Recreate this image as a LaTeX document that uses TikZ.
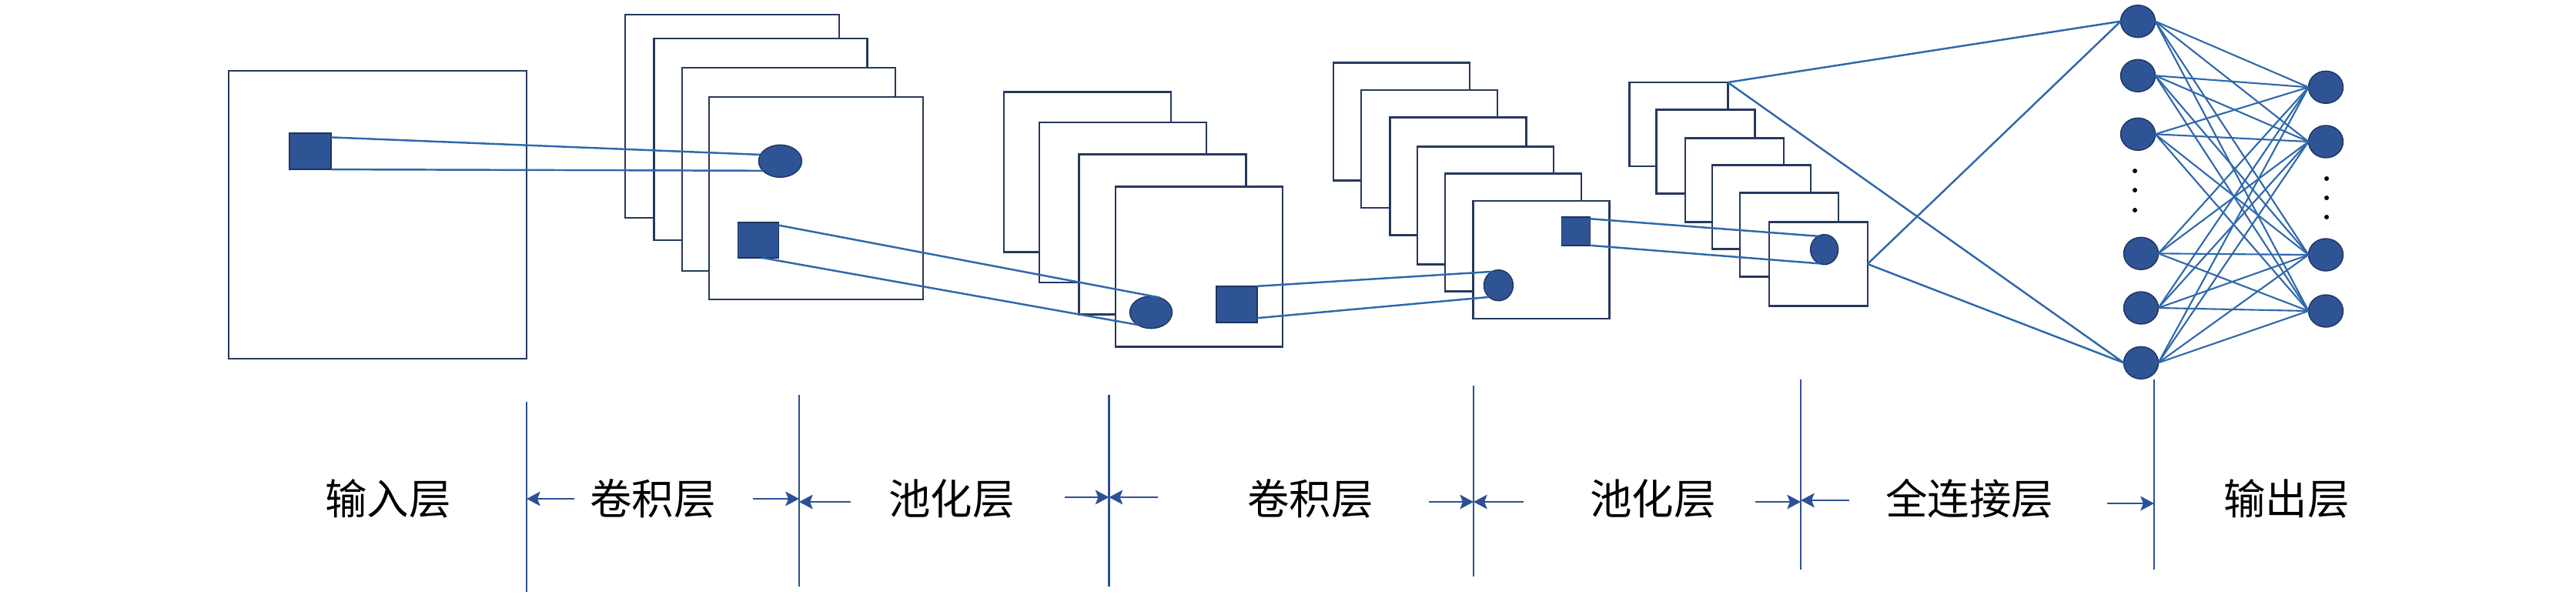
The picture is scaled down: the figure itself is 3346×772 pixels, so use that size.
\documentclass[tikz,border=0pt]{standalone}
\usepackage{fontspec}
\newfontfamily\cjk{Noto Sans CJK SC}
\usetikzlibrary{arrows.meta,shapes.geometric,calc}
\definecolor{framec}{RGB}{40,56,92}
\definecolor{fillb}{RGB}{47,84,150}
\definecolor{edgeb}{RGB}{30,52,96}
\definecolor{linkc}{RGB}{46,104,172}
\definecolor{axisc}{RGB}{43,80,150}
\begin{document}
\begin{tikzpicture}[x=0.02cm,y=-0.02cm,
  sz/.style 2 args={minimum width=#1*0.02cm,minimum height=#2*0.02cm},
  fmap/.style={draw=framec,fill=white,line width=1.4pt,rectangle,inner sep=0pt,outer sep=0pt,anchor=north west},
  patch/.style={draw=edgeb,fill=fillb,line width=0.8pt,rectangle,inner sep=0pt,outer sep=0pt},
  unit/.style={draw=edgeb,fill=fillb,line width=0.8pt,ellipse,inner sep=0pt,outer sep=0pt},
  neuron/.style={unit,sz={45}{42}},
  dotmark/.style={circle,fill=black,inner sep=0pt,minimum size=6*0.02cm},
  conn/.style={draw=linkc,line width=1.4pt},
  fcl/.style={draw=linkc,line width=1.2pt},
  vline/.style={draw=axisc,line width=1.3pt},
  arr/.style={draw=axisc,line width=1.6pt,-{Stealth[length=10pt,width=10.5pt,inset=2pt]}},
  lab/.style={font=\cjk\fontsize{31}{31}\selectfont,text=black,inner sep=0pt}
]
\useasboundingbox (0,0) rectangle (3346,772);

% input layer
\node[fmap,sz={387}{374}] (inp) at (297,92) {};
% conv 1
\node[fmap,sz={278}{264}] (ca1) at (812,19) {};
\node[fmap,sz={277}{262}] (ca2) at (849.5,50) {};
\node[fmap,sz={277}{264}] (ca3) at (886,88) {};
\node[fmap,sz={278}{263}] (ca4) at (921,126) {};
% pool 1
\node[fmap,sz={217}{208}] (pa1) at (1304,119.3) {};
\node[fmap,sz={217}{208}] (pa2) at (1350,159) {};
\node[fmap,sz={217}{208}] (pa3) at (1401.5,200.7) {};
\node[fmap,sz={217}{208}] (pa4) at (1449,242.3) {};
% conv 2
\node[fmap,sz={177}{153}] (cb1) at (1732,81.7) {};
\node[fmap,sz={177}{153}] (cb2) at (1768,117) {};
\node[fmap,sz={177}{153}] (cb3) at (1805.6,152.7) {};
\node[fmap,sz={177}{153}] (cb4) at (1840.8,190.3) {};
\node[fmap,sz={177}{153}] (cb5) at (1876.8,225.7) {};
\node[fmap,sz={177}{153}] (cb6) at (1913.5,261) {};
% pool 2
\node[fmap,sz={128}{109}] (pb1) at (2116.3,107) {};
\node[fmap,sz={128}{109}] (pb2) at (2151.5,142.3) {};
\node[fmap,sz={128}{109}] (pb3) at (2189,179.7) {};
\node[fmap,sz={128}{109}] (pb4) at (2224.2,214.7) {};
\node[fmap,sz={128}{109}] (pb5) at (2260.2,250.7) {};
\node[fmap,sz={128}{109}] (pb6) at (2297.7,288.5) {};

% patches and units
\node[patch,sz={54}{47}] (s1) at (403,196.6) {};
\node[unit,sz={56}{42}] (e1) at (1013.4,209.3) {};
\node[patch,sz={53}{46}] (s2) at (985,311.9) {};
\node[unit,sz={55}{42}] (e2) at (1495,405.7) {};
\node[patch,sz={53}{47}] (s3) at (1606.6,395.3) {};
\node[unit,sz={38}{40}] (e3) at (1946.4,370.7) {};
\node[patch,sz={37}{37}] (s4) at (2046.7,300.3) {};
\node[unit,sz={36}{39}] (e4) at (2369.6,324.2) {};

% receptive field lines
\draw[conn] (s1.34) -- (e1.162);
\draw[conn] (s1.south east) -- (e1.209);
\draw[conn] (s2.36) -- (e2.60);
\draw[conn] (s2.-78) -- (e2.223);
\draw[conn] (s3.north east) -- (e3.116);
\draw[conn] (s3.-34) -- (e3.231);
\draw[conn] (s4.41) -- (e4.115);
\draw[conn] (s4.south east) -- (e4.250);

% neurons
\node[neuron] (n1) at (2777,27.7) {};
\node[neuron] (n2) at (2777,98.3) {};
\node[neuron] (n3) at (2777,174.3) {};
\node[neuron] (n4) at (2781,329.3) {};
\node[neuron] (n5) at (2781,400) {};
\node[neuron] (n6) at (2781,471.3) {};
\node[neuron] (m1) at (3021,113.3) {};
\node[neuron] (m2) at (3021,184) {};
\node[neuron] (m3) at (3021,331) {};
\node[neuron] (m4) at (3021,404) {};
\node[dotmark] (dl1) at (2773,222) {};
\node[dotmark] (dl2) at (2773,247) {};
\node[dotmark] (dl3) at (2773,273) {};
\node[dotmark] (dr1) at (3022,232) {};
\node[dotmark] (dr2) at (3022,257) {};
\node[dotmark] (dr3) at (3022,282) {};

% to fully connected layer
\draw[conn] (pb1.north east) -- (n1.west);
\draw[conn] (pb1.north east) -- (n6.west);
\draw[conn] (pb6.east) -- (n1.west);
\draw[conn] (pb6.east) -- (n6.west);

% full connections
\foreach \a in {n1,n2,n3,n4,n5,n6}{
  \foreach \b in {m1,m2,m3,m4}{
    \draw[fcl] (\a.east) -- (\b.west);
  }
}

% separators
\coordinate (v1t) at (684,522);   \coordinate (v1b) at (684,769);
\coordinate (v2t) at (1038,513);  \coordinate (v2b) at (1038,762);
\coordinate (v3t) at (1440.5,513);\coordinate (v3b) at (1440.5,762);
\coordinate (v4t) at (1914,501);  \coordinate (v4b) at (1914,749);
\coordinate (v5t) at (2339,493);  \coordinate (v5b) at (2339,740);
\coordinate (v6t) at (2798,493);  \coordinate (v6b) at (2798,740);
\foreach \i in {1,...,6}{ \draw[vline] (v\i t) -- (v\i b); }

\coordinate (a1) at (746,648);
\coordinate (a2) at (977.5,648);
\coordinate (a3) at (1105,652);
\coordinate (a4) at (1383,646);
\coordinate (a5) at (1504,646);
\coordinate (a6) at (1856,652);
\coordinate (a7) at (1979,652);
\coordinate (a8) at (2280,652);
\coordinate (a9) at (2402,650);
\coordinate (a10) at (2737,654);
\draw[arr] (a1) -- (a1 -| v1t);
\draw[arr] (a2) -- (a2 -| v2t);
\draw[arr] (a3) -- (a3 -| v2t);
\draw[arr] (a4) -- (a4 -| v3t);
\draw[arr] (a5) -- (a5 -| v3t);
\draw[arr] (a6) -- (a6 -| v4t);
\draw[arr] (a7) -- (a7 -| v4t);
\draw[arr] (a8) -- (a8 -| v5t);
\draw[arr] (a9) -- (a9 -| v5t);
\draw[arr] (a10) -- (a10 -| v6t);

% labels
\node[lab] (l1) at (504,648) {输入层};
\node[lab] (l2) at (848,648) {卷积层};
\node[lab] (l3) at (1236,648) {池化层};
\node[lab] (l4) at (1702,648) {卷积层};
\node[lab] (l5) at (2147,648) {池化层};
\node[lab] (l6) at (2558,648) {全连接层};
\node[lab] (l7) at (2970,648) {输出层};
\end{tikzpicture}
\end{document}
